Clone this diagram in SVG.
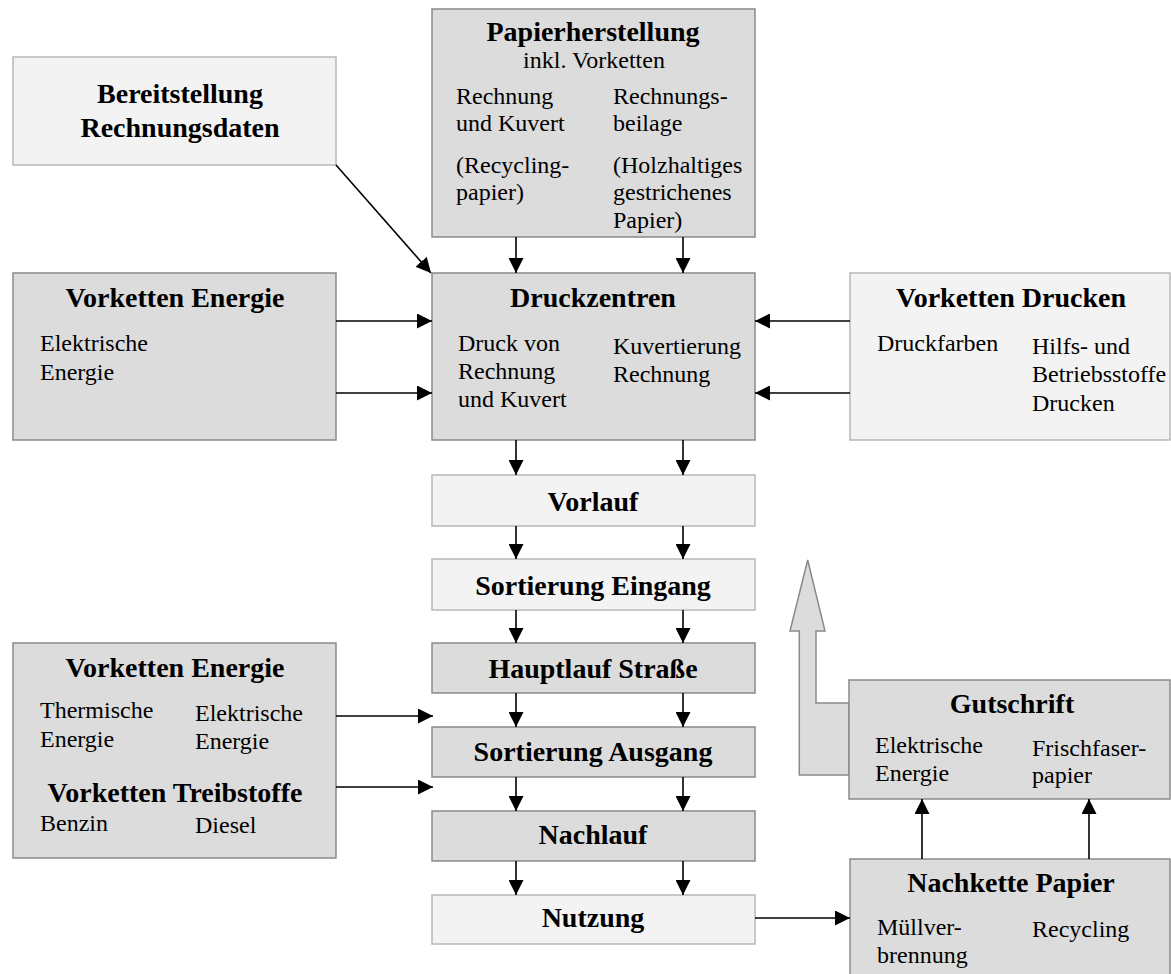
<svg xmlns="http://www.w3.org/2000/svg" width="1171" height="974" viewBox="0 0 1171 974">
<defs>
<marker id="ah" viewBox="0 0 15 15" refX="15" refY="7.5" markerWidth="15" markerHeight="15" markerUnits="userSpaceOnUse" orient="auto">
<path d="M0,0 L15,7.5 L0,15 z" fill="#000"/>
</marker>
</defs>
<style>
.dark{fill:#dcdcdc;stroke:#8a8a8a;stroke-width:1.5}
.light{fill:#f3f3f3;stroke:#b8b8b8;stroke-width:1.5}
.t{font-family:"Liberation Serif","Times New Roman",serif;font-size:24px;fill:#000}
.b{font-family:"Liberation Serif","Times New Roman",serif;font-size:28px;font-weight:bold;fill:#000}
.c{text-anchor:middle}
.con line{stroke:#000;stroke-width:1.6;marker-end:url(#ah)}
</style>
<rect width="1171" height="974" fill="#fff"/>

<g id="papierherstellung">
<rect class="dark" x="432" y="9" width="323" height="228"/>
<text class="b c" x="593" y="41">Papierherstellung</text>
<text class="t c" x="594" y="68">inkl. Vorketten</text>
<text class="t" x="456" y="104">Rechnung</text>
<text class="t" x="456" y="131">und Kuvert</text>
<text class="t" x="456" y="173">(Recycling-</text>
<text class="t" x="456" y="200">papier)</text>
<text class="t" x="613" y="104">Rechnungs-</text>
<text class="t" x="613" y="131">beilage</text>
<text class="t" x="613" y="173">(Holzhaltiges</text>
<text class="t" x="613" y="200">gestrichenes</text>
<text class="t" x="613" y="228">Papier)</text>
</g>

<g id="bereitstellung">
<rect class="light" x="13" y="57" width="323" height="108"/>
<text class="b c" x="180" y="103">Bereitstellung</text>
<text class="b c" x="180" y="137">Rechnungsdaten</text>
</g>

<g id="vorketten-energie-1">
<rect class="dark" x="13" y="273" width="323" height="167"/>
<text class="b c" x="175" y="307">Vorketten Energie</text>
<text class="t" x="40" y="351">Elektrische</text>
<text class="t" x="40" y="380">Energie</text>
</g>

<g id="druckzentren">
<rect class="dark" x="432" y="273" width="323" height="167"/>
<text class="b c" x="593" y="307">Druckzentren</text>
<text class="t" x="458" y="351">Druck von</text>
<text class="t" x="458" y="379">Rechnung</text>
<text class="t" x="458" y="407">und Kuvert</text>
<text class="t" x="613" y="354">Kuvertierung</text>
<text class="t" x="613" y="382">Rechnung</text>
</g>

<g id="vorketten-drucken">
<rect class="light" x="850" y="273" width="320" height="167"/>
<text class="b c" x="1011" y="307">Vorketten Drucken</text>
<text class="t" x="877" y="351">Druckfarben</text>
<text class="t" x="1032" y="354">Hilfs- und</text>
<text class="t" x="1032" y="382">Betriebsstoffe</text>
<text class="t" x="1032" y="411">Drucken</text>
</g>

<g id="vorlauf">
<rect class="light" x="432" y="475" width="323" height="51"/>
<text class="b c" x="593" y="511">Vorlauf</text>
</g>

<g id="sortierung-eingang">
<rect class="light" x="432" y="559" width="323" height="51"/>
<text class="b c" x="593" y="595">Sortierung Eingang</text>
</g>

<g id="hauptlauf">
<rect class="dark" x="432" y="643" width="323" height="50"/>
<text class="b c" x="593" y="678">Hauptlauf Straße</text>
</g>

<g id="sortierung-ausgang">
<rect class="dark" x="432" y="727" width="323" height="50"/>
<text class="b c" x="593" y="761">Sortierung Ausgang</text>
</g>

<g id="nachlauf">
<rect class="dark" x="432" y="811" width="323" height="50"/>
<text class="b c" x="593" y="844">Nachlauf</text>
</g>

<g id="nutzung">
<rect class="light" x="432" y="895" width="323" height="49"/>
<text class="b c" x="593" y="927">Nutzung</text>
</g>

<g id="vorketten-energie-2">
<rect class="dark" x="13" y="643" width="323" height="215"/>
<text class="b c" x="175" y="677">Vorketten Energie</text>
<text class="t" x="40" y="718">Thermische</text>
<text class="t" x="40" y="747">Energie</text>
<text class="t" x="195" y="721">Elektrische</text>
<text class="t" x="195" y="749">Energie</text>
<text class="b c" x="175" y="802">Vorketten Treibstoffe</text>
<text class="t" x="40" y="831">Benzin</text>
<text class="t" x="195" y="833">Diesel</text>
</g>

<g id="gutschrift">
<polygon points="849,703 816,703 816,631 825,631 807.7,560 790,631 799.3,631 799.3,775 849,775" fill="#dcdcdc" stroke="#8a8a8a" stroke-width="1.5"/>
<rect class="dark" x="849" y="680" width="321" height="119"/>
<text class="b c" x="1012" y="713">Gutschrift</text>
<text class="t" x="875" y="753">Elektrische</text>
<text class="t" x="875" y="781">Energie</text>
<text class="t" x="1032" y="756">Frischfaser-</text>
<text class="t" x="1032" y="783">papier</text>
</g>

<g id="nachkette-papier">
<rect class="dark" x="850" y="859" width="320" height="125"/>
<text class="b c" x="1011" y="892">Nachkette Papier</text>
<text class="t" x="877" y="935">Müllver-</text>
<text class="t" x="877" y="963">brennung</text>
<text class="t" x="1032" y="937">Recycling</text>
</g>

<g id="connectors" class="con">
<line x1="516" y1="237" x2="516" y2="273"/>
<line x1="683" y1="237" x2="683" y2="273"/>
<line x1="336" y1="165" x2="431" y2="273"/>
<line x1="336" y1="321" x2="432" y2="321"/>
<line x1="336" y1="393" x2="432" y2="393"/>
<line x1="850" y1="321" x2="755" y2="321"/>
<line x1="850" y1="393" x2="755" y2="393"/>
<line x1="516" y1="440" x2="516" y2="475"/>
<line x1="683" y1="440" x2="683" y2="475"/>
<line x1="516" y1="526" x2="516" y2="559"/>
<line x1="683" y1="526" x2="683" y2="559"/>
<line x1="516" y1="610" x2="516" y2="643"/>
<line x1="683" y1="610" x2="683" y2="643"/>
<line x1="516" y1="693" x2="516" y2="727"/>
<line x1="683" y1="693" x2="683" y2="727"/>
<line x1="516" y1="777" x2="516" y2="811"/>
<line x1="683" y1="777" x2="683" y2="811"/>
<line x1="516" y1="861" x2="516" y2="895"/>
<line x1="683" y1="861" x2="683" y2="895"/>
<line x1="336" y1="716" x2="433" y2="716"/>
<line x1="336" y1="787" x2="433" y2="787"/>
<line x1="755" y1="918" x2="850" y2="918"/>
<line x1="922" y1="859" x2="922" y2="799"/>
<line x1="1089" y1="859" x2="1089" y2="799"/>
</g>
</svg>
